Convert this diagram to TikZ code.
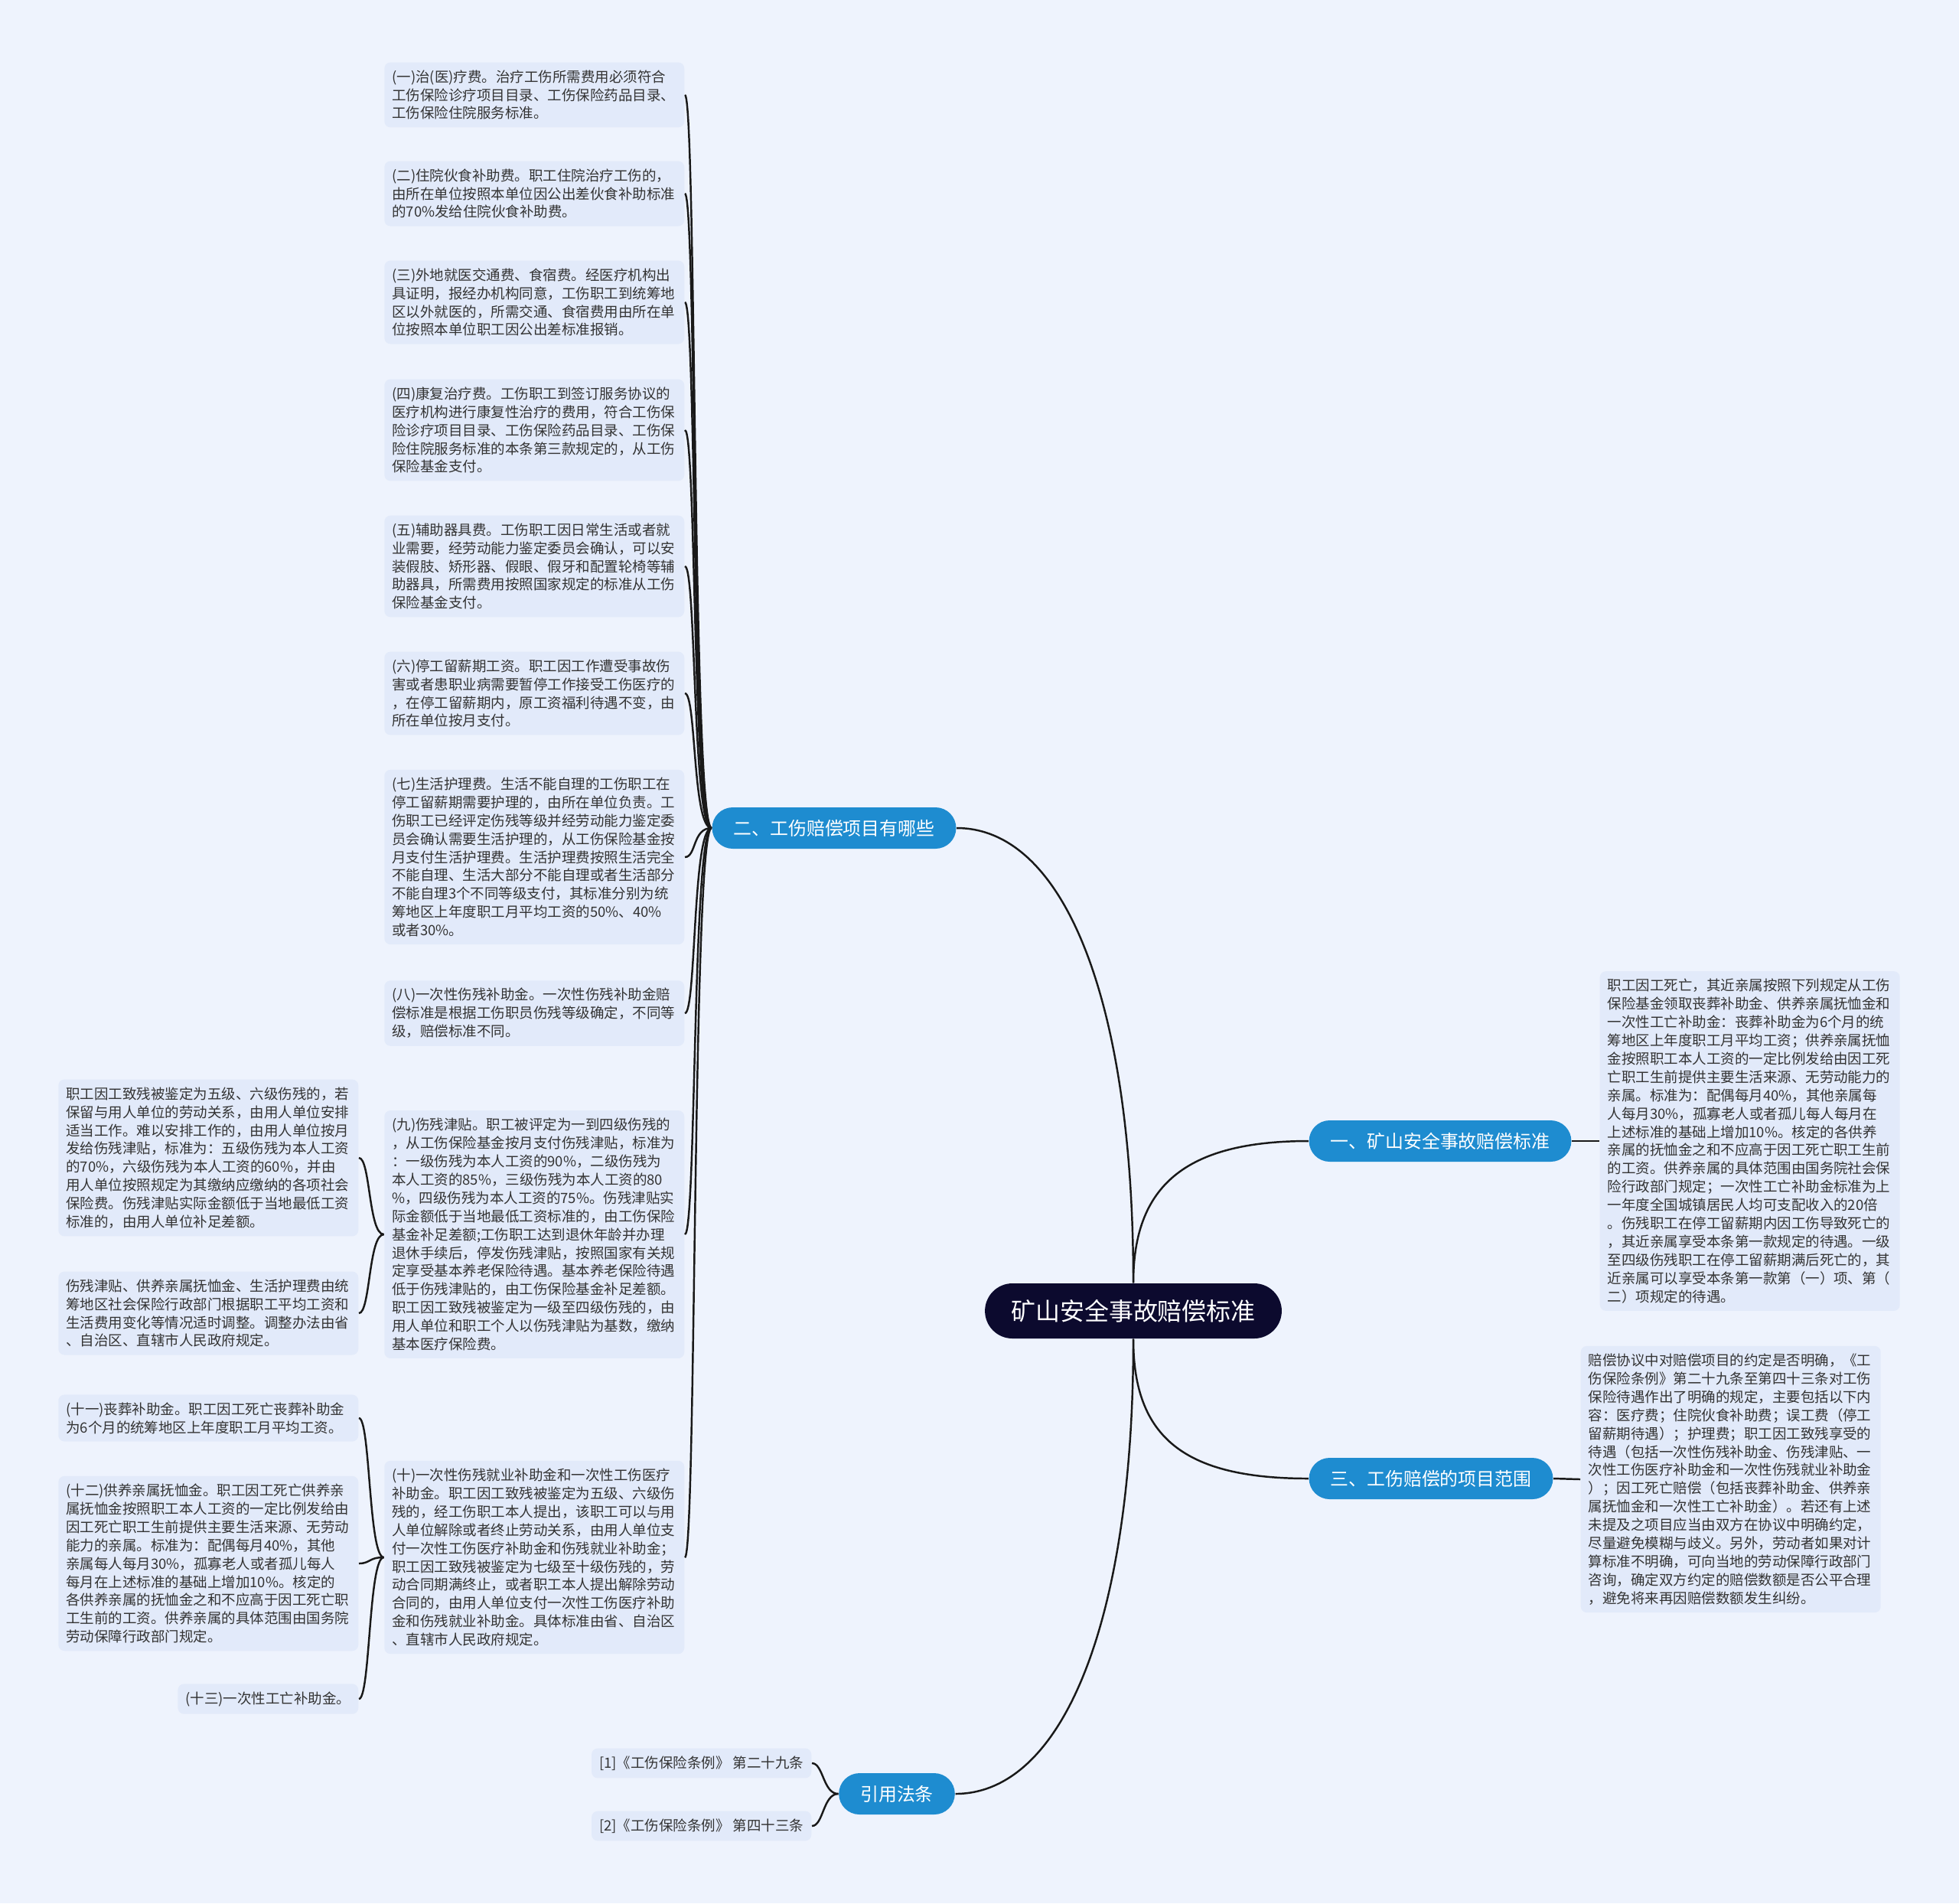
\documentclass[tikz,border=0pt]{standalone}
\usepackage{fontspec}
\usepackage{xcolor}
\usepackage{tikz}
\newfontfamily\cjk{Noto Sans CJK SC}

\definecolor{bgblue}{RGB}{238,243,253}
\definecolor{leafblue}{RGB}{226,234,250}
\definecolor{branchblue}{RGB}{30,140,208}
\definecolor{rootnavy}{RGB}{12,10,46}
\definecolor{leaftext}{RGB}{51,51,51}

\begin{document}
\begin{tikzpicture}[x=1cm, y=-1cm,
  leaf/.style={fill=leafblue, rounded corners=0.08cm, text=leaftext, inner sep=0.1cm,
    align=left, font={\cjk\fontsize{5.26pt}{6.8pt}\selectfont}},
  wideleaf/.style={leaf, text width=3.72cm},
  branch/.style={fill=branchblue, text=white, rounded corners=0.27cm, minimum height=0.54cm,
    inner xsep=0.28cm, font={\cjk\fontsize{6.8pt}{8pt}\selectfont}},
  root/.style={fill=rootnavy, text=white, rounded corners=0.36cm, minimum height=0.72cm,
    inner xsep=0.34cm, font={\cjk\fontsize{9.1pt}{11pt}\selectfont}},
  link/.style={draw=black!90, line width=0.7pt}]

  % Canvas
  \fill[bgblue] (0,0) rectangle (25.6,24.87);
  \useasboundingbox (0,0) rectangle (25.6,24.87);

  % Root and branches
  \node[root] (root) at (14.81,17.13) {矿山安全事故赔偿标准};
  \node[branch] (b2) at (10.90,10.82) {二、工伤赔偿项目有哪些};
  \node[branch] (b1) at (18.82,14.91) {一、矿山安全事故赔偿标准};
  \node[branch] (b3) at (18.70,19.32) {三、工伤赔偿的项目范围};
  \node[branch] (b4) at (11.72,23.44) {引用法条};

  % Items of branch two
  \node[wideleaf, anchor=east] (i1) at (8.95,1.24) {(一)治(医)疗费。治疗工伤所需费用必须符合\\
工伤保险诊疗项目目录、工伤保险药品目录、\\
工伤保险住院服务标准。};
  \node[wideleaf, anchor=east] (i2) at (8.95,2.53) {(二)住院伙食补助费。职工住院治疗工伤的，\\
由所在单位按照本单位因公出差伙食补助标准\\
的70\%发给住院伙食补助费。};
  \node[wideleaf, anchor=east] (i3) at (8.95,3.95) {(三)外地就医交通费、食宿费。经医疗机构出\\
具证明，报经办机构同意，工伤职工到统筹地\\
区以外就医的，所需交通、食宿费用由所在单\\
位按照本单位职工因公出差标准报销。};
  \node[wideleaf, anchor=east] (i4) at (8.95,5.62) {(四)康复治疗费。工伤职工到签订服务协议的\\
医疗机构进行康复性治疗的费用，符合工伤保\\
险诊疗项目目录、工伤保险药品目录、工伤保\\
险住院服务标准的本条第三款规定的，从工伤\\
保险基金支付。};
  \node[wideleaf, anchor=east] (i5) at (8.95,7.40) {(五)辅助器具费。工伤职工因日常生活或者就\\
业需要，经劳动能力鉴定委员会确认，可以安\\
装假肢、矫形器、假眼、假牙和配置轮椅等辅\\
助器具，所需费用按照国家规定的标准从工伤\\
保险基金支付。};
  \node[wideleaf, anchor=east] (i6) at (8.95,9.06) {(六)停工留薪期工资。职工因工作遭受事故伤\\
害或者患职业病需要暂停工作接受工伤医疗的\\
，在停工留薪期内，原工资福利待遇不变，由\\
所在单位按月支付。};
  \node[wideleaf, anchor=east] (i7) at (8.95,11.20) {(七)生活护理费。生活不能自理的工伤职工在\\
停工留薪期需要护理的，由所在单位负责。工\\
伤职工已经评定伤残等级并经劳动能力鉴定委\\
员会确认需要生活护理的，从工伤保险基金按\\
月支付生活护理费。生活护理费按照生活完全\\
不能自理、生活大部分不能自理或者生活部分\\
不能自理3个不同等级支付，其标准分别为统\\
筹地区上年度职工月平均工资的50\%、40\%\\
或者30\%。};
  \node[wideleaf, anchor=east] (i8) at (8.95,13.24) {(八)一次性伤残补助金。一次性伤残补助金赔\\
偿标准是根据工伤职员伤残等级确定，不同等\\
级，赔偿标准不同。};
  \node[wideleaf, anchor=east] (i9) at (8.95,16.13) {(九)伤残津贴。职工被评定为一到四级伤残的\\
，从工伤保险基金按月支付伤残津贴，标准为\\
：一级伤残为本人工资的90\%，二级伤残为\\
本人工资的85\%，三级伤残为本人工资的80\\
\%，四级伤残为本人工资的75\%。伤残津贴实\\
际金额低于当地最低工资标准的，由工伤保险\\
基金补足差额;工伤职工达到退休年龄并办理\\
退休手续后，停发伤残津贴，按照国家有关规\\
定享受基本养老保险待遇。基本养老保险待遇\\
低于伤残津贴的，由工伤保险基金补足差额。\\
职工因工致残被鉴定为一级至四级伤残的，由\\
用人单位和职工个人以伤残津贴为基数，缴纳\\
基本医疗保险费。};
  \node[wideleaf, anchor=east] (i10) at (8.95,20.35) {(十)一次性伤残就业补助金和一次性工伤医疗\\
补助金。职工因工致残被鉴定为五级、六级伤\\
残的，经工伤职工本人提出，该职工可以与用\\
人单位解除或者终止劳动关系，由用人单位支\\
付一次性工伤医疗补助金和伤残就业补助金；\\
职工因工致残被鉴定为七级至十级伤残的，劳\\
动合同期满终止，或者职工本人提出解除劳动\\
合同的，由用人单位支付一次性工伤医疗补助\\
金和伤残就业补助金。具体标准由省、自治区\\
、直辖市人民政府规定。};

  % Sub items of (九) and (十)
  \node[wideleaf, anchor=east] (i9a) at (4.69,15.13) {职工因工致残被鉴定为五级、六级伤残的，若\\
保留与用人单位的劳动关系，由用人单位安排\\
适当工作。难以安排工作的，由用人单位按月\\
发给伤残津贴，标准为：五级伤残为本人工资\\
的70\%，六级伤残为本人工资的60\%，并由\\
用人单位按照规定为其缴纳应缴纳的各项社会\\
保险费。伤残津贴实际金额低于当地最低工资\\
标准的，由用人单位补足差额。};
  \node[wideleaf, anchor=east] (i9b) at (4.69,17.16) {伤残津贴、供养亲属抚恤金、生活护理费由统\\
筹地区社会保险行政部门根据职工平均工资和\\
生活费用变化等情况适时调整。调整办法由省\\
、自治区、直辖市人民政府规定。};
  \node[wideleaf, anchor=east] (i11) at (4.69,18.53) {(十一)丧葬补助金。职工因工死亡丧葬补助金\\
为6个月的统筹地区上年度职工月平均工资。};
  \node[wideleaf, anchor=east] (i12) at (4.69,20.43) {(十二)供养亲属抚恤金。职工因工死亡供养亲\\
属抚恤金按照职工本人工资的一定比例发给由\\
因工死亡职工生前提供主要生活来源、无劳动\\
能力的亲属。标准为：配偶每月40\%，其他\\
亲属每人每月30\%，孤寡老人或者孤儿每人\\
每月在上述标准的基础上增加10\%。核定的\\
各供养亲属的抚恤金之和不应高于因工死亡职\\
工生前的工资。供养亲属的具体范围由国务院\\
劳动保障行政部门规定。};
  \node[leaf, anchor=east] (i13) at (4.69,22.20) {(十三)一次性工亡补助金。};

  % Right side texts
  \node[wideleaf, anchor=west] (r1) at (20.90,14.91) {职工因工死亡，其近亲属按照下列规定从工伤\\
保险基金领取丧葬补助金、供养亲属抚恤金和\\
一次性工亡补助金：丧葬补助金为6个月的统\\
筹地区上年度职工月平均工资；供养亲属抚恤\\
金按照职工本人工资的一定比例发给由因工死\\
亡职工生前提供主要生活来源、无劳动能力的\\
亲属。标准为：配偶每月40\%，其他亲属每\\
人每月30\%，孤寡老人或者孤儿每人每月在\\
上述标准的基础上增加10\%。核定的各供养\\
亲属的抚恤金之和不应高于因工死亡职工生前\\
的工资。供养亲属的具体范围由国务院社会保\\
险行政部门规定；一次性工亡补助金标准为上\\
一年度全国城镇居民人均可支配收入的20倍\\
。伤残职工在停工留薪期内因工伤导致死亡的\\
，其近亲属享受本条第一款规定的待遇。一级\\
至四级伤残职工在停工留薪期满后死亡的，其\\
近亲属可以享受本条第一款第（一）项、第（\\
二）项规定的待遇。};
  \node[wideleaf, anchor=west] (s3) at (20.65,19.33) {赔偿协议中对赔偿项目的约定是否明确，《工\\
伤保险条例》第二十九条至第四十三条对工伤\\
保险待遇作出了明确的规定，主要包括以下内\\
容：医疗费；住院伙食补助费；误工费（停工\\
留薪期待遇）；护理费；职工因工致残享受的\\
待遇（包括一次性伤残补助金、伤残津贴、一\\
次性工伤医疗补助金和一次性伤残就业补助金\\
）；因工死亡赔偿（包括丧葬补助金、供养亲\\
属抚恤金和一次性工亡补助金）。若还有上述\\
未提及之项目应当由双方在协议中明确约定，\\
尽量避免模糊与歧义。另外，劳动者如果对计\\
算标准不明确，可向当地的劳动保障行政部门\\
咨询，确定双方约定的赔偿数额是否公平合理\\
，避免将来再因赔偿数额发生纠纷。};

  % Cited articles
  \node[leaf, anchor=east] (law1) at (10.61,23.04) {[1]《工伤保险条例》 第二十九条};
  \node[leaf, anchor=east] (law2) at (10.61,23.86) {[2]《工伤保险条例》 第四十三条};

  % Links from root
  \draw[link] (root.north) .. controls +(0,-3.7) and +(1.4,0) .. (b2.east);
  \draw[link] (root.north) .. controls +(0,-1.26) and +(-1.62,0) .. (b1.west);
  \draw[link] (root.south) .. controls +(0,1.29) and +(-1.62,0) .. (b3.west);
  \draw[link] (root.south) .. controls +(0,3.7) and +(1.4,0) .. (b4.east);

  % Links to leaves
  \foreach \k in {1,...,10}
    \draw[link] (b2.west) .. controls +(-0.25,0) and +(0.15,0) .. (i\k.east);
  \foreach \n in {i9a,i9b}
    \draw[link] (i9.west) .. controls +(-0.2,0) and +(0.15,0) .. (\n.east);
  \foreach \n in {i11,i12,i13}
    \draw[link] (i10.west) .. controls +(-0.2,0) and +(0.15,0) .. (\n.east);
  \foreach \n in {law1,law2}
    \draw[link] (b4.west) .. controls +(-0.2,0) and +(0.15,0) .. (\n.east);
  \draw[link] (b1.east) -- (r1.west);
  \draw[link] (b3.east) -- (s3.west);
\end{tikzpicture}
\end{document}
